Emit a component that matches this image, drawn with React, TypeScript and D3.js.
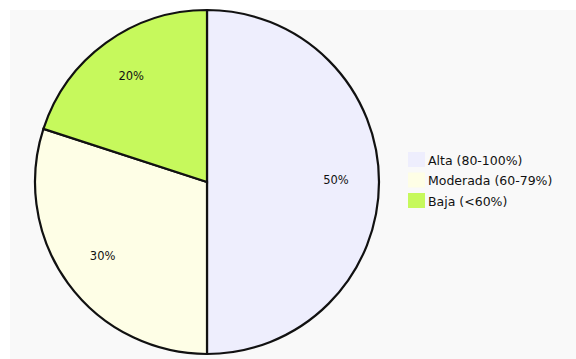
import React from "react";
import * as d3 from "d3";

const categories = ["Alta (80-100%)", "Moderada (60-79%)", "Baja (<60%)"];
const values = [50, 30, 20];
const colors = ["#eeeefd", "#fefee6", "#c6f95c"];

export default function App() {
  const W = 576, H = 359;
  const cx = 207, cy = 182, r = 172;
  const pie = d3.pie<number>().sort(null).value((d) => d);
  const arcs = pie(values);
  const arc = d3.arc<d3.PieArcDatum<number>>().innerRadius(0).outerRadius(r);
  const labelArc = d3.arc<d3.PieArcDatum<number>>().innerRadius(r * 0.75).outerRadius(r * 0.75);
  return (
    <svg width={W} height={H} style={{ position: "fixed", left: 0, top: 0 }}>
      <rect x={0} y={0} width={W} height={H} fill="#ffffff" />
      <rect x={10} y={10} width={W - 10} height={H - 10} fill="#f9f9f9" />
      <g transform={`translate(${cx},${cy})`}>
        {arcs.map((a, i) => (
          <path key={i} d={arc(a) || ""} fill={colors[i]} stroke="#111" strokeWidth={2.2} />
        ))}
        {arcs.map((a, i) => {
          const [x, y] = labelArc.centroid(a);
          return (
            <text key={"t" + i} x={x} y={y - 2} textAnchor="middle" dominantBaseline="central"
              fontFamily="DejaVu Sans" fontSize={11.5} fill="#111">
              {values[i]}%
            </text>
          );
        })}
      </g>
      <g transform="translate(408,152)">
        {categories.map((c, i) => (
          <g key={c} transform={`translate(0,${i * 20.5})`}>
            <rect x={0} y={0} width={17} height={15} fill={colors[i]} />
            <text x={20} y={8} dominantBaseline="central" fontFamily="DejaVu Sans" fontSize={12.5} fill="#111">
              {c}
            </text>
          </g>
        ))}
      </g>
    </svg>
  );
}
